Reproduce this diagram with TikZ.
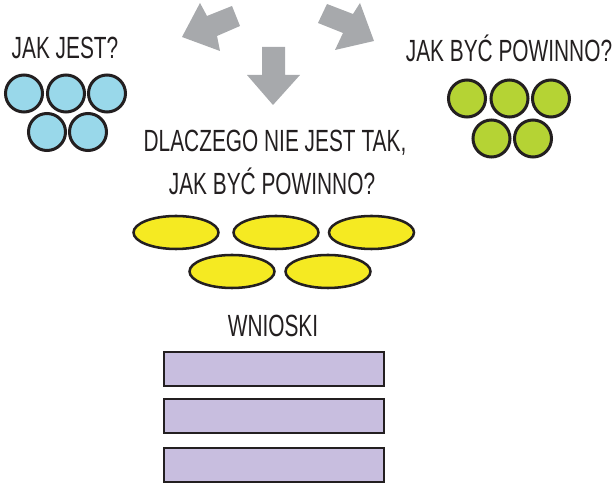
\documentclass[tikz,border=0pt]{standalone}
\usepackage{fontspec}
\usetikzlibrary{shapes.geometric}
\setmainfont[FakeStretch=0.68]{Liberation Sans}
\definecolor{cblue}{HTML}{99D8EA}
\definecolor{cgreen}{HTML}{B5D334}
\definecolor{cyellow}{HTML}{F5EA22}
\definecolor{cpurple}{HTML}{C8BEDF}
\definecolor{cgray}{HTML}{A7A9AC}
\definecolor{cline}{HTML}{231F20}
\begin{document}
\begin{tikzpicture}[x=0.75pt,y=-0.75pt,
  lbl/.style={anchor=base,inner sep=0pt,font=\fontsize{23}{26}\selectfont,text=cline},
  ball/.style={circle,draw=cline,line width=2.25pt,minimum size=27.75pt,inner sep=0pt},
  oval/.style={ellipse,draw=cline,line width=1.9pt,fill=cyellow,minimum width=63.75pt,minimum height=24.75pt,inner sep=0pt},
  bar/.style={rectangle,draw=cline,line width=1.9pt,fill=cpurple,minimum width=165pt,minimum height=25.5pt,inner sep=0pt},
  arr/.style={fill=cgray,draw=none}]
\useasboundingbox (0,0) rectangle (615,484);
% arrows
\fill[arr] (182,37) -- (200,3) -- (207,16) -- (232,6) -- (240,26) -- (217,36) -- (220,51) -- cycle;
\fill[arr] (374,41) -- (360,3) -- (353,14) -- (327,4) -- (318,23) -- (343,33) -- (335,50) -- cycle;
\fill[arr] (262,47) -- (285,47) -- (285,75) -- (300,75) -- (273,105) -- (247,75) -- (262,75) -- cycle;
% texts
\node[lbl] (t1) at (65,59) {JAK JEST?};
\node[lbl] (t2) at (509,61.5) {JAK BYĆ POWINNO?};
\node[lbl] (t3) at (275,151.5) {DLACZEGO NIE JEST TAK,};
\node[lbl] (t4) at (272,195) {JAK BYĆ POWINNO?};
\node[lbl] (t5) at (273,336.5) {WNIOSKI};
% blue balls
\node[ball,fill=cblue] (b1) at (24,93.5) {};
\node[ball,fill=cblue] (b2) at (66,93.5) {};
\node[ball,fill=cblue] (b3) at (107,93.5) {};
\node[ball,fill=cblue] (b4) at (47,132) {};
\node[ball,fill=cblue] (b5) at (88,132) {};
% green balls
\node[ball,fill=cgreen] (g1) at (467,98.5) {};
\node[ball,fill=cgreen] (g2) at (509.5,98.5) {};
\node[ball,fill=cgreen] (g3) at (551,98.5) {};
\node[ball,fill=cgreen] (g4) at (491.5,138.5) {};
\node[ball,fill=cgreen] (g5) at (533,138.5) {};
% ovals
\node[oval] (e1) at (176,232.5) {};
\node[oval] (e2) at (276,232.5) {};
\node[oval] (e3) at (371.5,232.5) {};
\node[oval] (e4) at (232,271.5) {};
\node[oval] (e5) at (328,271.5) {};
% bars
\node[bar] (r1) at (274,369) {};
\node[bar] (r2) at (274,416) {};
\node[bar] (r3) at (274,465) {};
\end{tikzpicture}
\end{document}
